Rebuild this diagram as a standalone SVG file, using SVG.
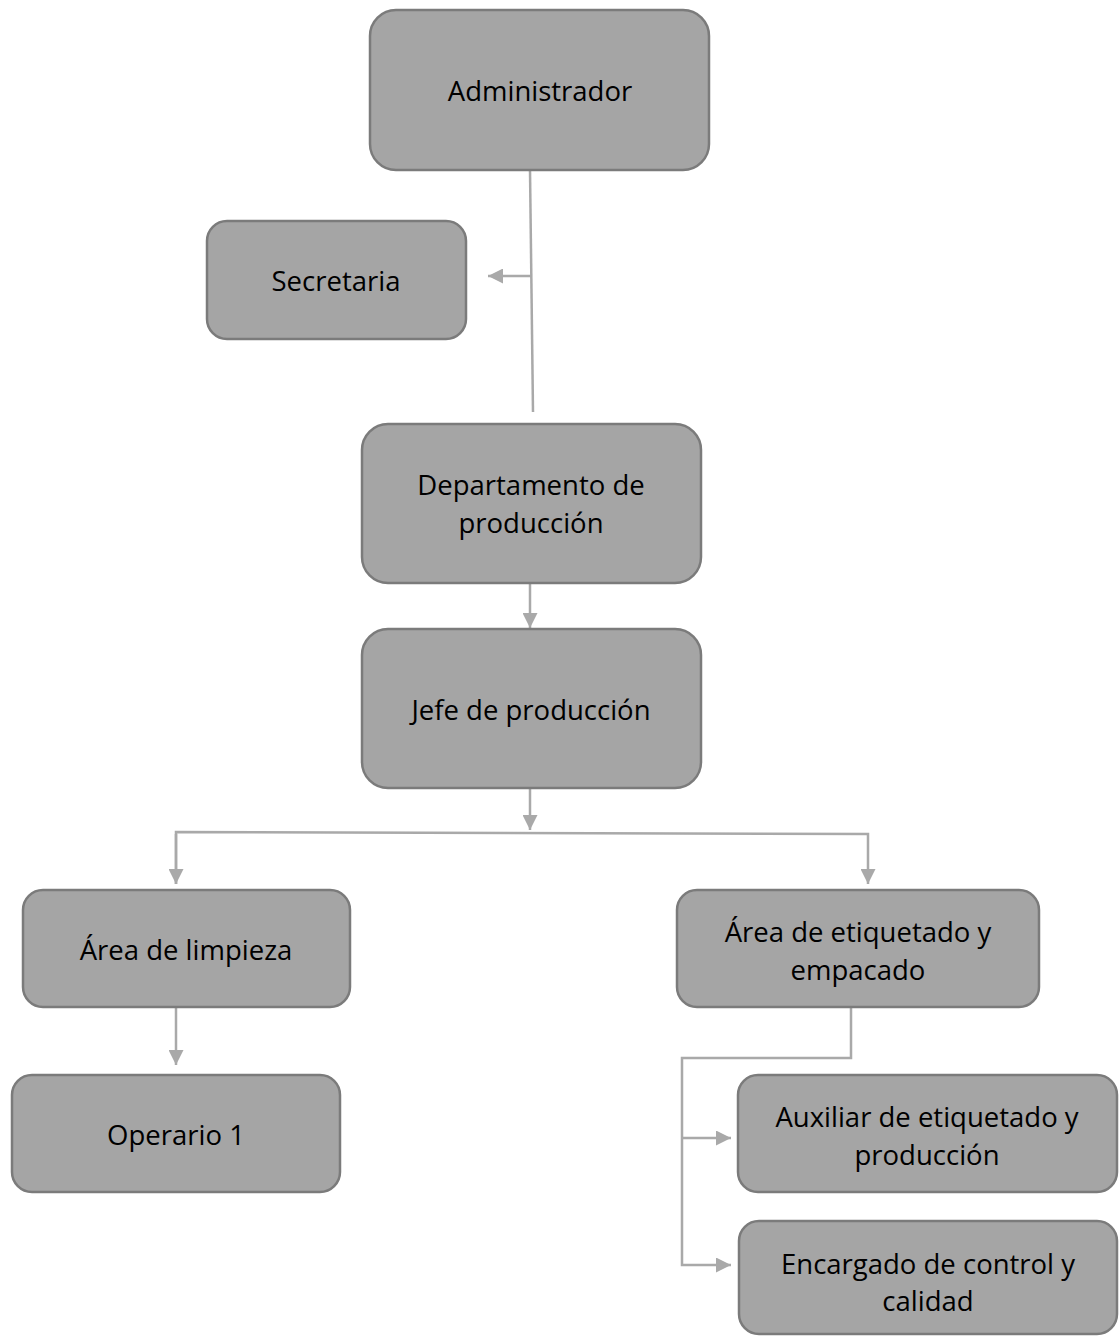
<svg xmlns="http://www.w3.org/2000/svg" width="1119" height="1336" viewBox="0 0 1119 1336">
<style>
.box{fill:#a5a5a5;stroke:#7b7b7b;stroke-width:2.5}
.t{font-family:"Open Sans","Liberation Sans",sans-serif;font-size:27.5px;fill:#000;text-anchor:middle}
.c{fill:none;stroke:#a9a9a9;stroke-width:2.5}
</style>
<defs>
<marker id="a" viewBox="0 0 10 10" refX="10" refY="5" markerWidth="15" markerHeight="15" markerUnits="userSpaceOnUse" orient="auto"><path d="M0,0L10,5L0,10z" fill="#a9a9a9"/></marker>
</defs>
<g id="connectors">
<path class="c" d="M530,170L533,412"/>
<path class="c" d="M531,276L488,276" marker-end="url(#a)"/>
<path class="c" d="M530,584L530,628" marker-end="url(#a)"/>
<path class="c" d="M530,789L530,830" marker-end="url(#a)"/>
<path class="c" d="M176,884L176,832L868,834L868,884" marker-end="url(#a)"/>
<path class="c" d="M176,834L176,884" marker-end="url(#a)"/>
<path class="c" d="M176,1008L176,1065" marker-end="url(#a)"/>
<path class="c" d="M851,1008L851,1058L682,1058L682,1265L731,1265" marker-end="url(#a)"/>
<path class="c" d="M682,1138L731,1138" marker-end="url(#a)"/>
</g>
<g id="admin"><rect class="box" x="370" y="10" width="339" height="160" rx="26"/><text class="t" x="540" y="101">Administrador</text></g>
<g id="secretaria"><rect class="box" x="207" y="221" width="259" height="118" rx="20"/><text class="t" x="336" y="291">Secretaria</text></g>
<g id="departamento"><rect class="box" x="362" y="424" width="339" height="159" rx="26"/><text class="t" x="531" y="495">Departamento de</text><text class="t" x="531" y="533">producción</text></g>
<g id="jefe"><rect class="box" x="362" y="629" width="339" height="159" rx="26"/><text class="t" x="531" y="720">Jefe de producción</text></g>
<g id="limpieza"><rect class="box" x="23" y="890" width="327" height="117" rx="20"/><text class="t" x="186" y="960">Área de limpieza</text></g>
<g id="operario"><rect class="box" x="12" y="1075" width="328" height="117" rx="20"/><text class="t" x="176" y="1145">Operario 1</text></g>
<g id="etiquetado"><rect class="box" x="677" y="890" width="362" height="117" rx="20"/><text class="t" x="858" y="942">Área de etiquetado y</text><text class="t" x="858" y="980">empacado</text></g>
<g id="auxiliar"><rect class="box" x="738" y="1075" width="379" height="117" rx="20"/><text class="t" x="927" y="1127">Auxiliar de etiquetado y</text><text class="t" x="927" y="1165">producción</text></g>
<g id="encargado"><rect class="box" x="739" y="1221" width="378" height="113" rx="20"/><text class="t" x="928" y="1274">Encargado de control y</text><text class="t" x="928" y="1311">calidad</text></g>
</svg>
